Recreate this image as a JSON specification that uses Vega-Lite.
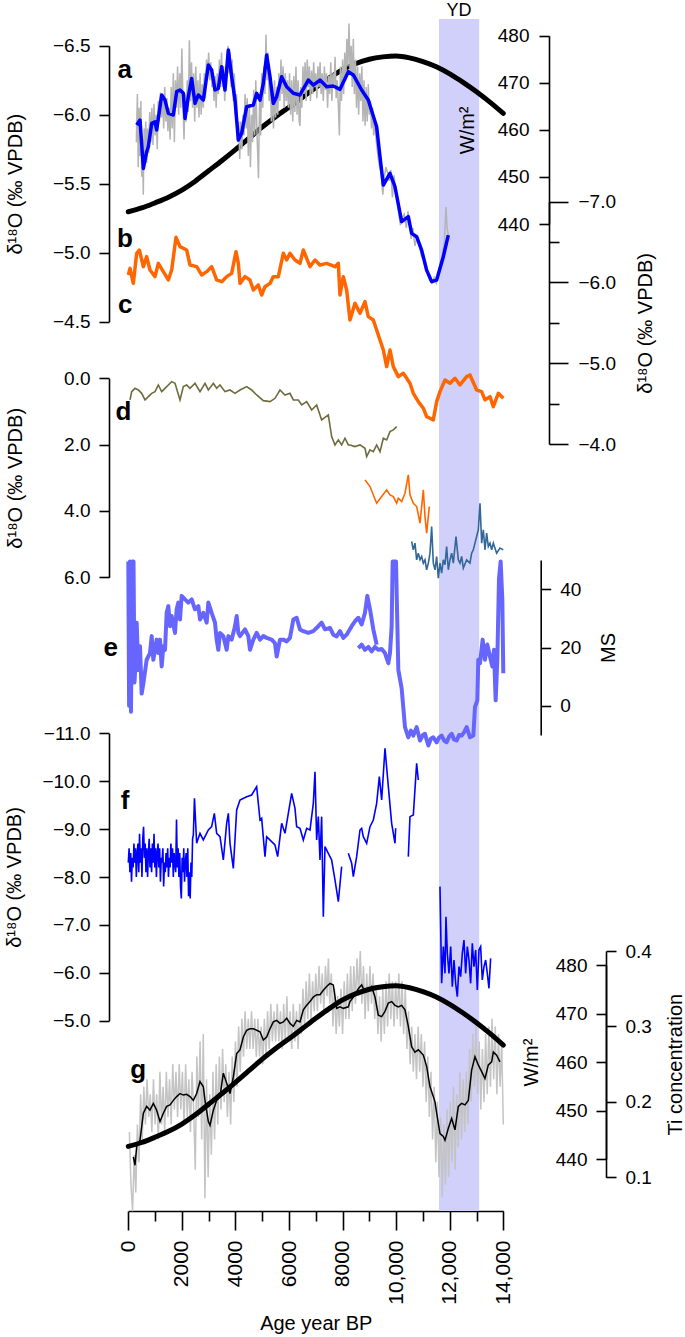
{
 "$schema": "https://vega.github.io/schema/vega-lite/v6.json",
 "width": 685, "height": 1337, "autosize": {"type": "none"}, "padding": 0,
 "background": "white",
 "config": {"view": {"stroke": null}, "font": "Liberation Sans",
   "axis": {"grid": false, "domainColor": "#000", "domainWidth": 1.6, "tickColor": "#000", "tickWidth": 1.6, "labelColor": "#000", "titleColor": "#000", "labelFontSize": 19, "titleFontSize": 20, "titleFontWeight": "normal", "labelFont": "Liberation Sans", "titleFont": "Liberation Sans", "labelOverlap": false, "labelBound": false, "labelFlush": false, "tickSize": 10, "labelPadding": 9}},
 "datasets": {
  "band": [{"age": 11600, "age2": 13100, "lo": 0, "hi": 1}],
  "yd": [{"age": 12350, "v": 1.0025, "t": "YD"}],
  "insol": [{"age":0,"v":442.6},{"age":500,"v":443.4},{"age":1000,"v":444.5},{"age":1500,"v":445.7},{"age":2000,"v":447.2},{"age":2500,"v":449.1},{"age":3000,"v":451.3},{"age":3500,"v":453.5},{"age":4000,"v":455.8},{"age":4500,"v":458.2},{"age":5000,"v":460.6},{"age":5500,"v":462.8},{"age":6000,"v":464.8},{"age":6500,"v":466.9},{"age":7000,"v":469.0},{"age":7500,"v":471.0},{"age":8000,"v":472.8},{"age":8500,"v":474.1},{"age":9000,"v":475.0},{"age":9500,"v":475.5},{"age":10000,"v":475.7},{"age":10500,"v":475.3},{"age":11000,"v":474.5},{"age":11500,"v":473.4},{"age":12000,"v":471.9},{"age":12500,"v":470.1},{"age":13000,"v":468.1},{"age":13500,"v":465.9},{"age":14000,"v":463.5}],
  "a_gray": [{"age":300,"v":-5.80},{"age":340,"v":-6.15},{"age":370,"v":-5.62},{"age":400,"v":-6.05},{"age":430,"v":-5.70},{"age":470,"v":-6.10},{"age":500,"v":-5.55},{"age":530,"v":-5.82},{"age":560,"v":-5.42},{"age":590,"v":-5.90},{"age":620,"v":-5.70},{"age":650,"v":-5.95},{"age":690,"v":-5.65},{"age":720,"v":-5.90},{"age":760,"v":-5.72},{"age":800,"v":-6.02},{"age":840,"v":-5.80},{"age":880,"v":-6.05},{"age":920,"v":-5.78},{"age":960,"v":-6.08},{"age":1000,"v":-5.85},{"age":1040,"v":-6.00},{"age":1080,"v":-5.75},{"age":1120,"v":-6.10},{"age":1160,"v":-5.95},{"age":1200,"v":-6.16},{"age":1240,"v":-5.98},{"age":1280,"v":-6.15},{"age":1320,"v":-5.90},{"age":1360,"v":-6.20},{"age":1400,"v":-5.95},{"age":1440,"v":-6.12},{"age":1480,"v":-5.88},{"age":1520,"v":-6.05},{"age":1560,"v":-5.82},{"age":1600,"v":-6.20},{"age":1640,"v":-5.90},{"age":1680,"v":-6.30},{"age":1720,"v":-5.80},{"age":1760,"v":-6.25},{"age":1800,"v":-6.05},{"age":1840,"v":-6.35},{"age":1880,"v":-6.00},{"age":1920,"v":-6.30},{"age":1960,"v":-6.05},{"age":2000,"v":-6.48},{"age":2040,"v":-6.10},{"age":2080,"v":-5.82},{"age":2120,"v":-6.15},{"age":2160,"v":-5.95},{"age":2200,"v":-6.25},{"age":2240,"v":-6.02},{"age":2280,"v":-6.54},{"age":2320,"v":-6.10},{"age":2360,"v":-6.38},{"age":2400,"v":-6.05},{"age":2440,"v":-6.30},{"age":2480,"v":-5.95},{"age":2520,"v":-6.35},{"age":2560,"v":-6.05},{"age":2600,"v":-6.25},{"age":2640,"v":-5.98},{"age":2680,"v":-6.30},{"age":2720,"v":-6.00},{"age":2760,"v":-6.22},{"age":2800,"v":-6.05},{"age":2840,"v":-6.30},{"age":2880,"v":-6.12},{"age":2920,"v":-6.40},{"age":2960,"v":-6.28},{"age":3000,"v":-6.45},{"age":3040,"v":-6.25},{"age":3080,"v":-6.38},{"age":3120,"v":-6.20},{"age":3160,"v":-6.30},{"age":3200,"v":-6.10},{"age":3240,"v":-6.28},{"age":3280,"v":-6.05},{"age":3320,"v":-6.30},{"age":3360,"v":-6.15},{"age":3400,"v":-6.40},{"age":3440,"v":-6.20},{"age":3480,"v":-6.45},{"age":3520,"v":-6.20},{"age":3560,"v":-6.35},{"age":3600,"v":-6.10},{"age":3640,"v":-6.30},{"age":3680,"v":-6.38},{"age":3720,"v":-6.50},{"age":3760,"v":-6.30},{"age":3800,"v":-6.45},{"age":3840,"v":-6.20},{"age":3880,"v":-6.40},{"age":3920,"v":-6.10},{"age":3960,"v":-6.30},{"age":4000,"v":-6.00},{"age":4040,"v":-6.15},{"age":4080,"v":-5.80},{"age":4120,"v":-5.95},{"age":4160,"v":-5.68},{"age":4200,"v":-5.95},{"age":4240,"v":-5.75},{"age":4280,"v":-6.00},{"age":4320,"v":-5.85},{"age":4360,"v":-6.15},{"age":4400,"v":-5.90},{"age":4440,"v":-6.12},{"age":4480,"v":-5.70},{"age":4520,"v":-6.05},{"age":4560,"v":-5.62},{"age":4600,"v":-6.00},{"age":4640,"v":-5.80},{"age":4680,"v":-6.18},{"age":4720,"v":-5.85},{"age":4760,"v":-6.25},{"age":4800,"v":-5.90},{"age":4860,"v":-5.54},{"age":4900,"v":-6.10},{"age":4940,"v":-5.85},{"age":4980,"v":-6.30},{"age":5020,"v":-6.05},{"age":5060,"v":-6.35},{"age":5100,"v":-6.15},{"age":5140,"v":-6.58},{"age":5180,"v":-6.25},{"age":5220,"v":-6.45},{"age":5260,"v":-6.10},{"age":5300,"v":-6.30},{"age":5340,"v":-5.95},{"age":5380,"v":-6.20},{"age":5420,"v":-5.90},{"age":5460,"v":-6.25},{"age":5500,"v":-5.98},{"age":5540,"v":-6.20},{"age":5580,"v":-6.00},{"age":5620,"v":-6.30},{"age":5660,"v":-6.10},{"age":5700,"v":-6.40},{"age":5740,"v":-6.15},{"age":5780,"v":-6.35},{"age":5820,"v":-6.05},{"age":5860,"v":-6.30},{"age":5900,"v":-6.10},{"age":5940,"v":-6.25},{"age":5980,"v":-6.05},{"age":6020,"v":-6.30},{"age":6060,"v":-6.00},{"age":6100,"v":-6.25},{"age":6140,"v":-5.95},{"age":6180,"v":-6.28},{"age":6220,"v":-6.02},{"age":6260,"v":-6.35},{"age":6300,"v":-6.00},{"age":6340,"v":-6.25},{"age":6380,"v":-5.95},{"age":6410,"v":-5.92},{"age":6440,"v":-6.20},{"age":6480,"v":-6.05},{"age":6520,"v":-6.35},{"age":6560,"v":-6.15},{"age":6600,"v":-6.38},{"age":6640,"v":-6.10},{"age":6680,"v":-6.40},{"age":6720,"v":-6.20},{"age":6760,"v":-6.35},{"age":6800,"v":-6.10},{"age":6840,"v":-6.32},{"age":6880,"v":-6.15},{"age":6920,"v":-6.38},{"age":6960,"v":-6.20},{"age":7000,"v":-6.30},{"age":7040,"v":-6.12},{"age":7080,"v":-6.35},{"age":7120,"v":-6.20},{"age":7160,"v":-6.38},{"age":7200,"v":-6.15},{"age":7240,"v":-6.30},{"age":7280,"v":-6.10},{"age":7320,"v":-6.35},{"age":7360,"v":-6.18},{"age":7400,"v":-6.30},{"age":7440,"v":-6.05},{"age":7480,"v":-6.28},{"age":7520,"v":-6.15},{"age":7560,"v":-6.38},{"age":7600,"v":-6.10},{"age":7640,"v":-6.30},{"age":7680,"v":-6.22},{"age":7720,"v":-6.42},{"age":7760,"v":-6.12},{"age":7800,"v":-6.25},{"age":7840,"v":-6.08},{"age":7880,"v":-5.85},{"age":7920,"v":-6.35},{"age":7960,"v":-6.10},{"age":8000,"v":-6.40},{"age":8040,"v":-6.15},{"age":8080,"v":-6.45},{"age":8120,"v":-6.25},{"age":8160,"v":-6.55},{"age":8200,"v":-6.35},{"age":8240,"v":-6.66},{"age":8280,"v":-6.30},{"age":8320,"v":-6.50},{"age":8360,"v":-6.20},{"age":8400,"v":-6.55},{"age":8440,"v":-6.15},{"age":8480,"v":-6.40},{"age":8520,"v":-6.05},{"age":8560,"v":-6.35},{"age":8600,"v":-6.00},{"age":8640,"v":-6.30},{"age":8680,"v":-6.10},{"age":8720,"v":-6.35},{"age":8760,"v":-5.95},{"age":8800,"v":-6.25},{"age":8840,"v":-5.92},{"age":8880,"v":-6.20},{"age":8920,"v":-5.95},{"age":8960,"v":-6.22},{"age":9000,"v":-6.00},{"age":9040,"v":-6.10},{"age":9080,"v":-5.90},{"age":9120,"v":-6.05},{"age":9160,"v":-5.85},{"age":9200,"v":-5.95},{"age":9260,"v":-5.80},{"age":9320,"v":-5.70},{"age":9380,"v":-5.62},{"age":9440,"v":-5.58},{"age":9500,"v":-5.42},{"age":9560,"v":-5.55},{"age":9620,"v":-5.62},{"age":9680,"v":-5.58},{"age":9740,"v":-5.52},{"age":9800,"v":-5.60},{"age":9860,"v":-5.40},{"age":9920,"v":-5.56},{"age":9980,"v":-5.45},{"age":10040,"v":-5.38},{"age":10100,"v":-5.28},{"age":10160,"v":-5.20},{"age":10220,"v":-5.25},{"age":10300,"v":-5.28},{"age":10380,"v":-5.18},{"age":10440,"v":-5.30},{"age":10500,"v":-5.22},{"age":10560,"v":-5.10},{"age":10620,"v":-5.18},{"age":10700,"v":-5.05},{"age":10780,"v":-5.12},{"age":10860,"v":-5.06},{"age":10940,"v":-4.98},{"age":11020,"v":-4.95},{"age":11100,"v":-4.88},{"age":11180,"v":-4.84},{"age":11260,"v":-4.80},{"age":11340,"v":-4.78},{"age":11420,"v":-4.82},{"age":11500,"v":-4.78},{"age":11580,"v":-4.86},{"age":11660,"v":-4.92},{"age":11740,"v":-5.00},{"age":11800,"v":-5.08},{"age":11860,"v":-5.33},{"age":11900,"v":-5.18},{"age":11960,"v":-5.12}],
  "a_blue": [{"age":313,"v":-5.925},{"age":437,"v":-5.961},{"age":562,"v":-5.611},{"age":686,"v":-5.732},{"age":748,"v":-5.768},{"age":873,"v":-5.937},{"age":997,"v":-5.949},{"age":1059,"v":-5.889},{"age":1246,"v":-6.143},{"age":1370,"v":-6.106},{"age":1495,"v":-6.010},{"age":1681,"v":-5.998},{"age":1806,"v":-6.167},{"age":1930,"v":-6.179},{"age":2055,"v":-6.155},{"age":2117,"v":-5.973},{"age":2241,"v":-6.131},{"age":2366,"v":-6.263},{"age":2490,"v":-6.082},{"age":2615,"v":-6.143},{"age":2801,"v":-6.106},{"age":2988,"v":-6.360},{"age":3112,"v":-6.324},{"age":3237,"v":-6.179},{"age":3361,"v":-6.191},{"age":3486,"v":-6.348},{"age":3610,"v":-6.179},{"age":3735,"v":-6.469},{"age":3859,"v":-6.275},{"age":3983,"v":-6.106},{"age":4108,"v":-5.817},{"age":4232,"v":-5.865},{"age":4419,"v":-6.058},{"age":4668,"v":-6.070},{"age":4792,"v":-6.155},{"age":4917,"v":-6.106},{"age":5041,"v":-6.227},{"age":5165,"v":-6.432},{"age":5290,"v":-6.275},{"age":5414,"v":-6.082},{"age":5539,"v":-6.131},{"age":5725,"v":-6.275},{"age":5912,"v":-6.203},{"age":6161,"v":-6.155},{"age":6410,"v":-6.143},{"age":6721,"v":-6.251},{"age":6907,"v":-6.215},{"age":7156,"v":-6.251},{"age":7405,"v":-6.203},{"age":7654,"v":-6.208},{"age":7903,"v":-6.184},{"age":8214,"v":-6.312},{"age":8400,"v":-6.288},{"age":8712,"v":-6.179},{"age":8960,"v":-6.106},{"age":9271,"v":-5.913},{"age":9396,"v":-5.696},{"age":9521,"v":-5.490},{"age":9769,"v":-5.575},{"age":9956,"v":-5.478},{"age":10205,"v":-5.225},{"age":10454,"v":-5.261},{"age":10578,"v":-5.140},{"age":10765,"v":-5.116},{"age":10951,"v":-5.019},{"age":11138,"v":-4.874},{"age":11325,"v":-4.790},{"age":11511,"v":-4.802},{"age":11760,"v":-4.971},{"age":11947,"v":-5.128}],
  "orange": [{"age":0,"v":-6.093},{"age":64,"v":-6.175},{"age":188,"v":-5.989},{"age":313,"v":-6.361},{"age":412,"v":-6.402},{"age":562,"v":-6.196},{"age":686,"v":-6.320},{"age":810,"v":-6.154},{"age":997,"v":-6.072},{"age":1121,"v":-6.237},{"age":1308,"v":-6.134},{"age":1495,"v":-6.031},{"age":1619,"v":-6.154},{"age":1781,"v":-6.559},{"age":1930,"v":-6.443},{"age":2179,"v":-6.402},{"age":2304,"v":-6.216},{"age":2552,"v":-6.196},{"age":2739,"v":-6.093},{"age":2926,"v":-6.134},{"age":3112,"v":-6.196},{"age":3299,"v":-6.031},{"age":3486,"v":-6.010},{"age":3672,"v":-6.072},{"age":3859,"v":-6.113},{"age":4021,"v":-6.381},{"age":4108,"v":-6.237},{"age":4170,"v":-5.989},{"age":4357,"v":-6.072},{"age":4543,"v":-6.031},{"age":4668,"v":-5.907},{"age":4854,"v":-5.969},{"age":4979,"v":-5.845},{"age":5103,"v":-5.948},{"age":5290,"v":-5.989},{"age":5414,"v":-6.072},{"age":5601,"v":-6.072},{"age":5788,"v":-6.361},{"age":5912,"v":-6.278},{"age":6036,"v":-6.361},{"age":6223,"v":-6.278},{"age":6410,"v":-6.237},{"age":6534,"v":-6.402},{"age":6783,"v":-6.196},{"age":6970,"v":-6.278},{"age":7156,"v":-6.216},{"age":7405,"v":-6.237},{"age":7716,"v":-6.196},{"age":7841,"v":-6.237},{"age":7903,"v":-5.845},{"age":8027,"v":-6.072},{"age":8152,"v":-5.907},{"age":8276,"v":-5.536},{"age":8463,"v":-5.742},{"age":8649,"v":-5.618},{"age":8836,"v":-5.763},{"age":8960,"v":-5.577},{"age":9147,"v":-5.536},{"age":9272,"v":-5.412},{"age":9396,"v":-5.288},{"age":9521,"v":-5.164},{"age":9645,"v":-4.958},{"age":9770,"v":-5.164},{"age":9894,"v":-4.958},{"age":10081,"v":-4.834},{"age":10267,"v":-4.876},{"age":10516,"v":-4.752},{"age":10641,"v":-4.628},{"age":10827,"v":-4.525},{"age":11014,"v":-4.443},{"age":11138,"v":-4.339},{"age":11263,"v":-4.319},{"age":11387,"v":-4.298},{"age":11512,"v":-4.525},{"age":11636,"v":-4.649},{"age":11823,"v":-4.793},{"age":12010,"v":-4.752},{"age":12196,"v":-4.814},{"age":12383,"v":-4.731},{"age":12631,"v":-4.834},{"age":12756,"v":-4.855},{"age":13005,"v":-4.669},{"age":13191,"v":-4.649},{"age":13316,"v":-4.546},{"age":13503,"v":-4.587},{"age":13627,"v":-4.463},{"age":13814,"v":-4.628},{"age":14000,"v":-4.566}],
  "d_olive": [{"age":64,"v":0.653},{"age":126,"v":0.402},{"age":250,"v":0.302},{"age":375,"v":0.352},{"age":499,"v":0.453},{"age":624,"v":0.653},{"age":748,"v":0.553},{"age":873,"v":0.453},{"age":997,"v":0.402},{"age":1121,"v":0.202},{"age":1246,"v":0.402},{"age":1370,"v":0.302},{"age":1495,"v":0.202},{"age":1619,"v":0.101},{"age":1744,"v":0.151},{"age":1930,"v":0.653},{"age":2055,"v":0.252},{"age":2179,"v":0.202},{"age":2304,"v":0.302},{"age":2490,"v":0.151},{"age":2677,"v":0.402},{"age":2863,"v":0.151},{"age":2988,"v":0.352},{"age":3175,"v":0.151},{"age":3299,"v":0.302},{"age":3423,"v":0.202},{"age":3610,"v":0.402},{"age":3797,"v":0.352},{"age":3983,"v":0.453},{"age":4170,"v":0.352},{"age":4419,"v":0.252},{"age":4605,"v":0.352},{"age":4792,"v":0.503},{"age":5041,"v":0.673},{"age":5290,"v":0.704},{"age":5476,"v":0.603},{"age":5663,"v":0.352},{"age":5850,"v":0.503},{"age":6036,"v":0.453},{"age":6161,"v":0.653},{"age":6348,"v":0.653},{"age":6472,"v":0.804},{"age":6659,"v":0.704},{"age":6845,"v":0.955},{"age":7032,"v":0.804},{"age":7218,"v":1.256},{"age":7467,"v":1.105},{"age":7592,"v":1.758},{"age":7716,"v":2.009},{"age":7841,"v":1.858},{"age":7965,"v":2.009},{"age":8090,"v":1.808},{"age":8214,"v":2.009},{"age":8277,"v":2.009},{"age":8463,"v":2.059},{"age":8650,"v":2.009},{"age":8837,"v":2.109},{"age":8899,"v":2.360},{"age":9023,"v":2.159},{"age":9148,"v":2.210},{"age":9272,"v":2.009},{"age":9397,"v":2.210},{"age":9521,"v":1.808},{"age":9645,"v":1.858},{"age":9770,"v":1.607},{"age":9894,"v":1.557},{"age":10019,"v":1.457}],
  "d_orange": [{"age":8837,"v":3.063},{"age":9023,"v":3.264},{"age":9272,"v":3.766},{"age":9459,"v":3.565},{"age":9645,"v":3.364},{"age":9770,"v":3.515},{"age":9894,"v":3.565},{"age":10019,"v":3.766},{"age":10081,"v":3.615},{"age":10205,"v":3.716},{"age":10330,"v":3.465},{"age":10454,"v":2.912},{"age":10516,"v":3.515},{"age":10641,"v":3.766},{"age":10765,"v":3.866},{"age":10890,"v":4.368},{"age":11014,"v":3.364},{"age":11076,"v":4.167},{"age":11138,"v":4.669},{"age":11238,"v":3.866}],
  "d_steel": [{"age":10579,"v":4.920},{"age":10641,"v":5.172},{"age":10703,"v":4.970},{"age":10765,"v":5.473},{"age":10827,"v":5.272},{"age":10890,"v":5.473},{"age":10952,"v":5.372},{"age":11014,"v":5.573},{"age":11076,"v":5.473},{"age":11138,"v":5.774},{"age":11201,"v":5.573},{"age":11263,"v":5.272},{"age":11325,"v":4.469},{"age":11387,"v":5.573},{"age":11450,"v":5.774},{"age":11512,"v":5.372},{"age":11574,"v":6.025},{"age":11636,"v":5.573},{"age":11698,"v":5.874},{"age":11761,"v":5.473},{"age":11823,"v":5.623},{"age":11885,"v":5.071},{"age":11947,"v":5.774},{"age":12010,"v":5.473},{"age":12072,"v":5.272},{"age":12134,"v":5.573},{"age":12234,"v":4.770},{"age":12321,"v":5.473},{"age":12383,"v":5.573},{"age":12445,"v":5.372},{"age":12507,"v":5.724},{"age":12632,"v":5.473},{"age":12756,"v":5.573},{"age":12818,"v":5.272},{"age":12881,"v":5.171},{"age":12943,"v":4.970},{"age":13005,"v":4.770},{"age":13067,"v":4.569},{"age":13130,"v":3.766},{"age":13192,"v":4.970},{"age":13254,"v":4.569},{"age":13316,"v":5.171},{"age":13378,"v":4.669},{"age":13441,"v":5.071},{"age":13503,"v":4.970},{"age":13565,"v":5.171},{"age":13627,"v":4.970},{"age":13752,"v":5.272},{"age":13876,"v":5.121},{"age":14000,"v":5.172}],
  "e1": [{"age":0,"v":49.5},{"age":30,"v":0},{"age":60,"v":49.5},{"age":100,"v":-2},{"age":150,"v":49.5},{"age":195,"v":49.5},{"age":230,"v":8},{"age":270,"v":14},{"age":313,"v":28.5},{"age":375,"v":12.3},{"age":437,"v":20.4},{"age":499,"v":4.2},{"age":562,"v":7.7},{"age":686,"v":15.8},{"age":810,"v":18.1},{"age":873,"v":23.9},{"age":935,"v":15.8},{"age":997,"v":19.2},{"age":1059,"v":22.7},{"age":1121,"v":18.1},{"age":1184,"v":22.7},{"age":1246,"v":13.5},{"age":1308,"v":20.4},{"age":1370,"v":19.2},{"age":1433,"v":31.9},{"age":1495,"v":34.2},{"age":1557,"v":27.3},{"age":1619,"v":30.8},{"age":1744,"v":25.0},{"age":1806,"v":33.1},{"age":1868,"v":35.4},{"age":1930,"v":29.6},{"age":1992,"v":37.7},{"age":2117,"v":36.5},{"age":2241,"v":35.4},{"age":2366,"v":36.5},{"age":2490,"v":33.1},{"age":2615,"v":34.2},{"age":2677,"v":29.6},{"age":2801,"v":31.9},{"age":2926,"v":28.5},{"age":2988,"v":35.4},{"age":3112,"v":31.9},{"age":3237,"v":28.5},{"age":3299,"v":22.7},{"age":3361,"v":19.2},{"age":3423,"v":25.0},{"age":3548,"v":23.9},{"age":3672,"v":19.2},{"age":3735,"v":23.9},{"age":3859,"v":22.7},{"age":3983,"v":27.3},{"age":4046,"v":30.8},{"age":4108,"v":25.0},{"age":4170,"v":23.9},{"age":4357,"v":26.2},{"age":4481,"v":23.9},{"age":4543,"v":19.2},{"age":4668,"v":22.7},{"age":4792,"v":25.0},{"age":4917,"v":22.7},{"age":5041,"v":23.9},{"age":5165,"v":23.3},{"age":5352,"v":22.7},{"age":5476,"v":21.5},{"age":5539,"v":16.9},{"age":5663,"v":22.7},{"age":5788,"v":22.7},{"age":5912,"v":22.1},{"age":6036,"v":23.3},{"age":6161,"v":29.6},{"age":6285,"v":30.2},{"age":6410,"v":26.2},{"age":6534,"v":25.6},{"age":6721,"v":25.0},{"age":6907,"v":25.6},{"age":7094,"v":27.3},{"age":7218,"v":28.5},{"age":7343,"v":26.2},{"age":7530,"v":26.7},{"age":7654,"v":24.4},{"age":7779,"v":23.8},{"age":7903,"v":25.6},{"age":8028,"v":23.3},{"age":8152,"v":24.4},{"age":8339,"v":27.3},{"age":8463,"v":29.0},{"age":8588,"v":30.2},{"age":8712,"v":27.9},{"age":8836,"v":31.9},{"age":8924,"v":37.7},{"age":9023,"v":33.1},{"age":9148,"v":26.2},{"age":9272,"v":21.0}],
  "e2": [{"age":8588,"v":19.8},{"age":8712,"v":21.0},{"age":8836,"v":19.2},{"age":8961,"v":20.2},{"age":9085,"v":18.7},{"age":9210,"v":20.2},{"age":9334,"v":19.2},{"age":9459,"v":19.5},{"age":9583,"v":18.1},{"age":9708,"v":14.6},{"age":9770,"v":18.1},{"age":9832,"v":27.3},{"age":9869,"v":49.5},{"age":9994,"v":49.5},{"age":10081,"v":12.3},{"age":10205,"v":6.0},{"age":10330,"v":-7.3},{"age":10454,"v":-10.8},{"age":10550,"v":-8.5},{"age":10641,"v":-10.2},{"age":10765,"v":-7.3},{"age":10890,"v":-11.9},{"age":11000,"v":-10.0},{"age":11076,"v":-9.6},{"age":11201,"v":-13.6},{"age":11300,"v":-11.2},{"age":11387,"v":-10.8},{"age":11512,"v":-12.5},{"age":11600,"v":-10.9},{"age":11698,"v":-10.2},{"age":11800,"v":-12.0},{"age":11885,"v":-12.5},{"age":11980,"v":-10.5},{"age":12072,"v":-9.6},{"age":12160,"v":-11.5},{"age":12259,"v":-11.9},{"age":12350,"v":-10.0},{"age":12445,"v":-10.2},{"age":12540,"v":-9.0},{"age":12632,"v":-7.3},{"age":12756,"v":-10.8},{"age":12881,"v":-10.2},{"age":12943,"v":-0.4},{"age":13030,"v":1.9},{"age":13067,"v":15.8},{"age":13130,"v":14.6},{"age":13229,"v":22.7},{"age":13316,"v":15.8},{"age":13403,"v":21.0},{"age":13503,"v":16.9},{"age":13590,"v":13.5},{"age":13652,"v":19.2},{"age":13714,"v":1.9},{"age":13777,"v":15.8},{"age":13839,"v":43.5},{"age":13901,"v":49.5},{"age":13963,"v":36.5},{"age":14000,"v":11.2}],
  "f": [{"s":1,"age":0,"v":-8.3},{"s":1,"age":30,"v":-8.6},{"s":1,"age":60,"v":-8.1},{"s":1,"age":90,"v":-8.5},{"s":1,"age":120,"v":-7.9},{"s":1,"age":150,"v":-8.4},{"s":1,"age":180,"v":-8.2},{"s":1,"age":210,"v":-8.7},{"s":1,"age":240,"v":-8.3},{"s":1,"age":270,"v":-8.6},{"s":1,"age":300,"v":-8.0},{"s":1,"age":330,"v":-8.5},{"s":1,"age":360,"v":-8.7},{"s":1,"age":390,"v":-8.1},{"s":1,"age":420,"v":-8.9},{"s":1,"age":450,"v":-8.3},{"s":1,"age":480,"v":-8.6},{"s":1,"age":510,"v":-8.0},{"s":1,"age":540,"v":-8.8},{"s":1,"age":570,"v":-9.05},{"s":1,"age":600,"v":-8.4},{"s":1,"age":630,"v":-8.7},{"s":1,"age":660,"v":-8.1},{"s":1,"age":690,"v":-8.6},{"s":1,"age":720,"v":-8.0},{"s":1,"age":750,"v":-8.5},{"s":1,"age":780,"v":-8.8},{"s":1,"age":810,"v":-8.2},{"s":1,"age":840,"v":-8.6},{"s":1,"age":870,"v":-8.1},{"s":1,"age":900,"v":-8.7},{"s":1,"age":930,"v":-8.3},{"s":1,"age":960,"v":-8.9},{"s":1,"age":990,"v":-8.2},{"s":1,"age":1020,"v":-8.6},{"s":1,"age":1050,"v":-8.0},{"s":1,"age":1080,"v":-8.5},{"s":1,"age":1110,"v":-8.7},{"s":1,"age":1140,"v":-8.2},{"s":1,"age":1170,"v":-8.6},{"s":1,"age":1200,"v":-7.9},{"s":1,"age":1230,"v":-8.4},{"s":1,"age":1260,"v":-8.3},{"s":1,"age":1290,"v":-8.6},{"s":1,"age":1320,"v":-7.8},{"s":1,"age":1350,"v":-8.3},{"s":1,"age":1380,"v":-8.1},{"s":1,"age":1410,"v":-8.5},{"s":1,"age":1440,"v":-8.2},{"s":1,"age":1470,"v":-8.6},{"s":1,"age":1500,"v":-8.0},{"s":1,"age":1530,"v":-8.4},{"s":1,"age":1560,"v":-8.2},{"s":1,"age":1590,"v":-8.7},{"s":1,"age":1620,"v":-8.3},{"s":1,"age":1650,"v":-8.6},{"s":1,"age":1680,"v":-8.0},{"s":1,"age":1710,"v":-8.5},{"s":1,"age":1740,"v":-8.3},{"s":1,"age":1770,"v":-8.1},{"s":1,"age":1800,"v":-9.2},{"s":1,"age":1830,"v":-8.2},{"s":1,"age":1860,"v":-8.6},{"s":1,"age":1890,"v":-8.0},{"s":1,"age":1920,"v":-8.5},{"s":1,"age":1950,"v":-7.8},{"s":1,"age":1980,"v":-7.55},{"s":1,"age":2010,"v":-8.4},{"s":1,"age":2040,"v":-8.1},{"s":1,"age":2070,"v":-8.6},{"s":1,"age":2100,"v":-7.9},{"s":1,"age":2130,"v":-8.3},{"s":1,"age":2160,"v":-8.5},{"s":1,"age":2190,"v":-8.0},{"s":1,"age":2220,"v":-8.6},{"s":1,"age":2250,"v":-7.6},{"s":1,"age":2280,"v":-8.1},{"s":1,"age":2310,"v":-7.55},{"s":1,"age":2340,"v":-8.3},{"s":1,"age":2370,"v":-8.0},{"s":1,"age":2400,"v":-8.8},{"s":1,"age":2428,"v":-8.877},{"s":1,"age":2470,"v":-9.643},{"s":1,"age":2552,"v":-8.703},{"s":1,"age":2677,"v":-8.912},{"s":1,"age":2801,"v":-8.773},{"s":1,"age":2988,"v":-8.981},{"s":1,"age":3112,"v":-9.051},{"s":1,"age":3212,"v":-9.330},{"s":1,"age":3299,"v":-8.912},{"s":1,"age":3423,"v":-8.842},{"s":1,"age":3548,"v":-8.355},{"s":1,"age":3672,"v":-9.121},{"s":1,"age":3735,"v":-9.330},{"s":1,"age":3797,"v":-8.703},{"s":1,"age":3921,"v":-8.181},{"s":1,"age":4046,"v":-9.399},{"s":1,"age":4170,"v":-9.608},{"s":1,"age":4419,"v":-9.677},{"s":1,"age":4605,"v":-9.712},{"s":1,"age":4792,"v":-9.886},{"s":1,"age":4917,"v":-9.190},{"s":1,"age":4979,"v":-9.225},{"s":1,"age":5103,"v":-8.425},{"s":1,"age":5165,"v":-8.842},{"s":1,"age":5352,"v":-8.738},{"s":1,"age":5476,"v":-8.668},{"s":1,"age":5576,"v":-8.425},{"s":1,"age":5725,"v":-9.121},{"s":1,"age":5850,"v":-8.912},{"s":1,"age":5974,"v":-9.330},{"s":1,"age":6099,"v":-9.747},{"s":1,"age":6223,"v":-9.434},{"s":1,"age":6285,"v":-9.051},{"s":1,"age":6410,"v":-9.016},{"s":1,"age":6534,"v":-8.773},{"s":1,"age":6659,"v":-9.016},{"s":1,"age":6783,"v":-8.981},{"s":1,"age":6907,"v":-9.538},{"s":1,"age":6970,"v":-10.199},{"s":1,"age":7032,"v":-8.773},{"s":1,"age":7094,"v":-9.260},{"s":1,"age":7156,"v":-8.355},{"s":1,"age":7218,"v":-9.260},{"s":1,"age":7281,"v":-7.172},{"s":1,"age":7343,"v":-8.634},{"s":1,"age":7467,"v":-8.494},{"s":1,"age":7592,"v":-8.355},{"s":1,"age":7716,"v":-7.938},{"s":1,"age":7841,"v":-7.485},{"s":1,"age":7965,"v":-8.216},{"s":2,"age":8214,"v":-8.494},{"s":2,"age":8339,"v":-8.286},{"s":2,"age":8401,"v":-8.007},{"s":2,"age":8525,"v":-8.425},{"s":2,"age":8650,"v":-8.981},{"s":2,"age":8712,"v":-9.016},{"s":2,"age":8774,"v":-8.842},{"s":2,"age":8899,"v":-8.703},{"s":2,"age":9023,"v":-9.051},{"s":2,"age":9148,"v":-9.190},{"s":2,"age":9272,"v":-9.538},{"s":2,"age":9372,"v":-10.095},{"s":2,"age":9459,"v":-9.608},{"s":2,"age":9583,"v":-10.687},{"s":2,"age":9708,"v":-9.886},{"s":2,"age":9832,"v":-9.121},{"s":2,"age":9956,"v":-8.703},{"s":2,"age":9981,"v":-9.016},{"s":3,"age":10454,"v":-8.425},{"s":3,"age":10516,"v":-9.260},{"s":3,"age":10641,"v":-9.295},{"s":3,"age":10765,"v":-10.373},{"s":3,"age":10827,"v":-10.025},{"s":4,"age":11636,"v":-7.799},{"s":4,"age":11698,"v":-5.780},{"s":4,"age":11761,"v":-6.546},{"s":4,"age":11823,"v":-5.989},{"s":4,"age":11860,"v":-7.172},{"s":4,"age":11910,"v":-6.407},{"s":4,"age":11972,"v":-5.989},{"s":4,"age":12035,"v":-6.546},{"s":4,"age":12097,"v":-5.711},{"s":4,"age":12159,"v":-6.267},{"s":4,"age":12221,"v":-5.780},{"s":4,"age":12283,"v":-5.502},{"s":4,"age":12346,"v":-6.128},{"s":4,"age":12408,"v":-5.920},{"s":4,"age":12470,"v":-6.407},{"s":4,"age":12532,"v":-6.685},{"s":4,"age":12594,"v":-5.989},{"s":4,"age":12657,"v":-6.546},{"s":4,"age":12719,"v":-6.267},{"s":4,"age":12781,"v":-5.780},{"s":4,"age":12843,"v":-6.616},{"s":4,"age":12905,"v":-6.128},{"s":4,"age":12968,"v":-6.476},{"s":4,"age":13030,"v":-5.641},{"s":4,"age":13092,"v":-6.476},{"s":4,"age":13154,"v":-6.546},{"s":4,"age":13216,"v":-5.850},{"s":4,"age":13279,"v":-6.128},{"s":4,"age":13341,"v":-6.267},{"s":4,"age":13403,"v":-5.989},{"s":4,"age":13465,"v":-5.676},{"s":4,"age":13527,"v":-6.302}],
  "g_gray": [{"age":40,"v":0.16},{"age":100,"v":0.09},{"age":160,"v":0.055},{"age":220,"v":0.13},{"age":280,"v":0.08},{"age":340,"v":0.17},{"age":400,"v":0.12},{"age":460,"v":0.21},{"age":520,"v":0.15},{"age":580,"v":0.22},{"age":640,"v":0.17},{"age":700,"v":0.23},{"age":760,"v":0.18},{"age":820,"v":0.21},{"age":880,"v":0.16},{"age":940,"v":0.23},{"age":1000,"v":0.17},{"age":1060,"v":0.21},{"age":1120,"v":0.15},{"age":1180,"v":0.24},{"age":1240,"v":0.17},{"age":1300,"v":0.22},{"age":1360,"v":0.16},{"age":1420,"v":0.24},{"age":1480,"v":0.18},{"age":1540,"v":0.23},{"age":1600,"v":0.17},{"age":1660,"v":0.25},{"age":1720,"v":0.19},{"age":1780,"v":0.24},{"age":1840,"v":0.18},{"age":1900,"v":0.25},{"age":1960,"v":0.19},{"age":2020,"v":0.24},{"age":2080,"v":0.17},{"age":2140,"v":0.25},{"age":2200,"v":0.18},{"age":2260,"v":0.23},{"age":2320,"v":0.16},{"age":2380,"v":0.24},{"age":2440,"v":0.19},{"age":2500,"v":0.11},{"age":2560,"v":0.26},{"age":2620,"v":0.18},{"age":2680,"v":0.28},{"age":2740,"v":0.15},{"age":2800,"v":0.29},{"age":2860,"v":0.072},{"age":2920,"v":0.23},{"age":2980,"v":0.10},{"age":3040,"v":0.21},{"age":3100,"v":0.13},{"age":3160,"v":0.24},{"age":3220,"v":0.15},{"age":3280,"v":0.25},{"age":3340,"v":0.17},{"age":3400,"v":0.26},{"age":3460,"v":0.19},{"age":3520,"v":0.27},{"age":3580,"v":0.20},{"age":3640,"v":0.25},{"age":3700,"v":0.18},{"age":3760,"v":0.24},{"age":3820,"v":0.17},{"age":3880,"v":0.26},{"age":3940,"v":0.20},{"age":4000,"v":0.28},{"age":4060,"v":0.22},{"age":4120,"v":0.30},{"age":4180,"v":0.24},{"age":4240,"v":0.31},{"age":4300,"v":0.26},{"age":4360,"v":0.32},{"age":4420,"v":0.27},{"age":4480,"v":0.31},{"age":4540,"v":0.27},{"age":4600,"v":0.32},{"age":4660,"v":0.27},{"age":4720,"v":0.31},{"age":4780,"v":0.26},{"age":4840,"v":0.31},{"age":4900,"v":0.26},{"age":4960,"v":0.30},{"age":5020,"v":0.25},{"age":5080,"v":0.31},{"age":5140,"v":0.26},{"age":5200,"v":0.32},{"age":5260,"v":0.27},{"age":5320,"v":0.33},{"age":5380,"v":0.28},{"age":5440,"v":0.32},{"age":5500,"v":0.28},{"age":5560,"v":0.33},{"age":5620,"v":0.28},{"age":5680,"v":0.32},{"age":5740,"v":0.27},{"age":5800,"v":0.33},{"age":5860,"v":0.28},{"age":5920,"v":0.34},{"age":5980,"v":0.28},{"age":6040,"v":0.32},{"age":6100,"v":0.27},{"age":6160,"v":0.33},{"age":6220,"v":0.28},{"age":6280,"v":0.32},{"age":6340,"v":0.27},{"age":6400,"v":0.33},{"age":6460,"v":0.29},{"age":6520,"v":0.35},{"age":6580,"v":0.30},{"age":6640,"v":0.36},{"age":6700,"v":0.31},{"age":6760,"v":0.37},{"age":6820,"v":0.31},{"age":6880,"v":0.36},{"age":6940,"v":0.32},{"age":7000,"v":0.37},{"age":7060,"v":0.32},{"age":7120,"v":0.38},{"age":7180,"v":0.33},{"age":7240,"v":0.37},{"age":7300,"v":0.32},{"age":7360,"v":0.38},{"age":7420,"v":0.34},{"age":7470,"v":0.39},{"age":7520,"v":0.33},{"age":7580,"v":0.37},{"age":7640,"v":0.30},{"age":7700,"v":0.35},{"age":7760,"v":0.29},{"age":7820,"v":0.34},{"age":7880,"v":0.30},{"age":7940,"v":0.35},{"age":8000,"v":0.29},{"age":8060,"v":0.36},{"age":8120,"v":0.31},{"age":8180,"v":0.37},{"age":8240,"v":0.31},{"age":8300,"v":0.38},{"age":8360,"v":0.32},{"age":8420,"v":0.38},{"age":8480,"v":0.33},{"age":8540,"v":0.39},{"age":8600,"v":0.34},{"age":8660,"v":0.40},{"age":8720,"v":0.33},{"age":8780,"v":0.38},{"age":8840,"v":0.31},{"age":8900,"v":0.37},{"age":8960,"v":0.32},{"age":9020,"v":0.38},{"age":9080,"v":0.33},{"age":9140,"v":0.37},{"age":9200,"v":0.31},{"age":9260,"v":0.35},{"age":9320,"v":0.29},{"age":9380,"v":0.34},{"age":9440,"v":0.28},{"age":9500,"v":0.35},{"age":9560,"v":0.29},{"age":9620,"v":0.36},{"age":9680,"v":0.30},{"age":9740,"v":0.37},{"age":9800,"v":0.31},{"age":9860,"v":0.36},{"age":9920,"v":0.30},{"age":9980,"v":0.36},{"age":10040,"v":0.31},{"age":10100,"v":0.37},{"age":10160,"v":0.30},{"age":10220,"v":0.36},{"age":10280,"v":0.29},{"age":10340,"v":0.35},{"age":10400,"v":0.27},{"age":10460,"v":0.32},{"age":10520,"v":0.25},{"age":10580,"v":0.30},{"age":10640,"v":0.24},{"age":10700,"v":0.29},{"age":10760,"v":0.23},{"age":10820,"v":0.30},{"age":10880,"v":0.24},{"age":10940,"v":0.29},{"age":11000,"v":0.22},{"age":11060,"v":0.28},{"age":11120,"v":0.20},{"age":11180,"v":0.26},{"age":11240,"v":0.18},{"age":11300,"v":0.24},{"age":11360,"v":0.15},{"age":11420,"v":0.22},{"age":11480,"v":0.12},{"age":11540,"v":0.20},{"age":11600,"v":0.10},{"age":11660,"v":0.18},{"age":11720,"v":0.074},{"age":11780,"v":0.17},{"age":11840,"v":0.09},{"age":11900,"v":0.19},{"age":11960,"v":0.10},{"age":12020,"v":0.20},{"age":12080,"v":0.12},{"age":12140,"v":0.22},{"age":12200,"v":0.11},{"age":12260,"v":0.21},{"age":12320,"v":0.14},{"age":12380,"v":0.24},{"age":12440,"v":0.15},{"age":12500,"v":0.23},{"age":12560,"v":0.16},{"age":12620,"v":0.24},{"age":12680,"v":0.17},{"age":12740,"v":0.27},{"age":12800,"v":0.20},{"age":12860,"v":0.29},{"age":12920,"v":0.22},{"age":12980,"v":0.30},{"age":13040,"v":0.21},{"age":13100,"v":0.28},{"age":13160,"v":0.19},{"age":13220,"v":0.27},{"age":13280,"v":0.20},{"age":13340,"v":0.29},{"age":13400,"v":0.21},{"age":13460,"v":0.30},{"age":13520,"v":0.22},{"age":13580,"v":0.31},{"age":13640,"v":0.23},{"age":13700,"v":0.30},{"age":13760,"v":0.21},{"age":13820,"v":0.29},{"age":13880,"v":0.22},{"age":13940,"v":0.28},{"age":14000,"v":0.17}],
  "g_black": [{"age":188,"v":0.127},{"age":250,"v":0.116},{"age":313,"v":0.141},{"age":437,"v":0.149},{"age":562,"v":0.185},{"age":686,"v":0.194},{"age":810,"v":0.189},{"age":935,"v":0.198},{"age":1059,"v":0.189},{"age":1184,"v":0.174},{"age":1308,"v":0.185},{"age":1433,"v":0.194},{"age":1557,"v":0.196},{"age":1681,"v":0.202},{"age":1806,"v":0.207},{"age":1930,"v":0.211},{"age":2055,"v":0.209},{"age":2179,"v":0.210},{"age":2304,"v":0.207},{"age":2428,"v":0.202},{"age":2552,"v":0.211},{"age":2677,"v":0.227},{"age":2801,"v":0.220},{"age":2863,"v":0.202},{"age":2988,"v":0.174},{"age":3050,"v":0.169},{"age":3175,"v":0.189},{"age":3299,"v":0.202},{"age":3423,"v":0.207},{"age":3548,"v":0.238},{"age":3672,"v":0.225},{"age":3797,"v":0.211},{"age":3921,"v":0.233},{"age":4046,"v":0.264},{"age":4170,"v":0.269},{"age":4295,"v":0.286},{"age":4419,"v":0.295},{"age":4543,"v":0.297},{"age":4668,"v":0.297},{"age":4792,"v":0.295},{"age":4917,"v":0.293},{"age":5041,"v":0.282},{"age":5165,"v":0.286},{"age":5290,"v":0.297},{"age":5414,"v":0.306},{"age":5539,"v":0.308},{"age":5663,"v":0.304},{"age":5788,"v":0.306},{"age":5912,"v":0.311},{"age":6036,"v":0.304},{"age":6161,"v":0.300},{"age":6285,"v":0.308},{"age":6410,"v":0.306},{"age":6534,"v":0.322},{"age":6659,"v":0.328},{"age":6783,"v":0.333},{"age":6907,"v":0.339},{"age":7032,"v":0.342},{"age":7156,"v":0.342},{"age":7281,"v":0.348},{"age":7405,"v":0.353},{"age":7530,"v":0.357},{"age":7654,"v":0.355},{"age":7779,"v":0.324},{"age":7903,"v":0.326},{"age":8027,"v":0.324},{"age":8214,"v":0.326},{"age":8277,"v":0.333},{"age":8463,"v":0.342},{"age":8588,"v":0.350},{"age":8712,"v":0.355},{"age":8837,"v":0.346},{"age":8961,"v":0.348},{"age":9086,"v":0.353},{"age":9210,"v":0.339},{"age":9334,"v":0.315},{"age":9459,"v":0.313},{"age":9583,"v":0.320},{"age":9708,"v":0.331},{"age":9832,"v":0.333},{"age":9956,"v":0.328},{"age":10081,"v":0.326},{"age":10205,"v":0.328},{"age":10330,"v":0.322},{"age":10454,"v":0.300},{"age":10579,"v":0.273},{"age":10703,"v":0.266},{"age":10827,"v":0.269},{"age":11014,"v":0.262},{"age":11138,"v":0.247},{"age":11263,"v":0.220},{"age":11387,"v":0.207},{"age":11450,"v":0.200},{"age":11512,"v":0.185},{"age":11636,"v":0.158},{"age":11761,"v":0.154},{"age":11823,"v":0.149},{"age":11947,"v":0.165},{"age":12072,"v":0.178},{"age":12196,"v":0.163},{"age":12321,"v":0.194},{"age":12445,"v":0.198},{"age":12570,"v":0.196},{"age":12694,"v":0.202},{"age":12818,"v":0.242},{"age":12943,"v":0.260},{"age":13067,"v":0.249},{"age":13192,"v":0.240},{"age":13316,"v":0.231},{"age":13441,"v":0.249},{"age":13565,"v":0.253},{"age":13627,"v":0.266},{"age":13752,"v":0.262},{"age":13876,"v":0.253}],
  "labA": [{"age":-135,"v":-6.264,"t":"a"},{"age":-128,"v":-5.043,"t":"b"},{"age":-110,"v":-4.561,"t":"c"}],
  "labD": [{"age":-185,"v":1.256,"t":"d"}],
  "labE": [{"age":-653,"v":16.92,"t":"e"}],
  "labF": [{"age":-123,"v":-9.413,"t":"f"}],
  "labG": [{"age":373,"v":0.2312,"t":"g"}]
 },
 "encoding": {"x": {"field": "age", "type": "quantitative", "scale": {"domain": [0, 14000], "range": [128.3, 503.3], "nice": false, "zero": false},
   "axis": {"orient": "bottom", "offset": -126, "values": [0,1000,2000,3000,4000,5000,6000,7000,8000,9000,10000,11000,12000,13000,14000],
     "tickSize": {"condition": {"test": "datum.value % 2000 === 0", "value": 19}, "value": 10},
     "labelExpr": "datum.value % 2000 ? '' : (datum.value >= 10000 ? format(datum.value, ',') : format(datum.value, 'd'))",
     "labelAngle": -90, "labelAlign": "right", "labelBaseline": "middle", "labelFontSize": 21, "labelPadding": 10,
     "title": "Age year BP", "titleFontSize": 20, "titlePadding": 9}}},
 "layer": [
  {"data": {"name": "band"}, "mark": {"type": "rect", "color": "#D0D0FA"},
   "encoding": {"x2": {"field": "age2"}, "y": {"field": "hi", "type": "quantitative", "scale": {"domain": [0, 1], "range": [1211, 19], "nice": false, "zero": false}, "axis": null}, "y2": {"field": "lo"}}},
  {"data": {"name": "yd"}, "mark": {"type": "text", "fontSize": 18, "align": "center", "baseline": "alphabetic", "color": "#000"},
   "encoding": {"text": {"field": "t"}, "y": {"field": "v", "type": "quantitative", "scale": {"domain": [0, 1], "range": [1211, 19], "nice": false, "zero": false}, "axis": null}}},
  {"data": {"name": "insol"}, "mark": {"type": "line", "color": "#000", "strokeWidth": 5, "interpolate": "monotone", "strokeCap": "round"},
   "encoding": {"y": {"field": "v", "type": "quantitative", "scale": {"domain": [440, 480], "range": [224, 35.7], "nice": false, "zero": false},
     "axis": {"orient": "left", "offset": -549, "zindex": 2, "values": [440,450,460,470,480], "labelPadding": 10, "title": "W/m²", "titlePadding": 20}}}},
  {"data": {"name": "a_gray"}, "mark": {"type": "line", "color": "#B4B4B4", "strokeWidth": 1.5},
   "encoding": {"y": {"field": "v", "type": "quantitative", "scale": {"domain": [-6.5, -4.5], "range": [45.7, 321.7], "nice": false, "zero": false}, "axis": null}}},
  {"data": {"name": "a_blue"}, "mark": {"type": "line", "color": "#0000FF", "strokeWidth": 3.5, "strokeJoin": "round"},
   "encoding": {"y": {"field": "v", "type": "quantitative", "scale": {"domain": [-6.5, -4.5], "range": [45.7, 321.7], "nice": false, "zero": false},
     "axis": {"orient": "left", "offset": -109, "values": [-6.5,-6,-5.5,-5,-4.5], "format": ".1f", "title": "δ¹⁸O (‰ VPDB)", "titlePadding": 27}}}},
  {"data": {"name": "orange"}, "mark": {"type": "line", "color": "#FF6600", "strokeWidth": 3.5, "strokeJoin": "round"},
   "encoding": {"y": {"field": "v", "type": "quantitative", "scale": {"domain": [-7, -4], "range": [201.7, 444], "nice": false, "zero": false},
     "axis": {"orient": "right", "offset": -136, "values": [-7,-6.5,-6,-5.5,-5,-4.5,-4],
       "tickSize": {"condition": {"test": "datum.value % 1 === 0", "value": 19}, "value": 10},
       "labelExpr": "datum.value % 1 ? '' : format(datum.value, '.1f')", "labelPadding": 10,
       "title": "δ¹⁸O (‰ VPDB)", "titleAngle": 270, "titleBaseline": "top", "titlePadding": 20}}}},
  {"data": {"name": "labA"}, "mark": {"type": "text", "fontSize": 26, "fontWeight": "bold", "align": "center", "baseline": "alphabetic", "color": "#000"},
   "encoding": {"text": {"field": "t"}, "y": {"field": "v", "type": "quantitative", "scale": {"domain": [-6.5, -4.5], "range": [45.7, 321.7], "nice": false, "zero": false}, "axis": null}}},
  {"data": {"name": "d_olive"}, "mark": {"type": "line", "color": "#6E6B3C", "strokeWidth": 1.6},
   "encoding": {"y": {"field": "v", "type": "quantitative", "scale": {"domain": [0, 6], "range": [378.3, 577.3], "nice": false, "zero": false},
     "axis": {"orient": "left", "offset": -109, "values": [0,2,4,6], "format": ".1f", "title": "δ¹⁸O (‰ VPDB)", "titlePadding": 38}}}},
  {"data": {"name": "d_orange"}, "mark": {"type": "line", "color": "#FF6600", "strokeWidth": 1.6},
   "encoding": {"y": {"field": "v", "type": "quantitative", "scale": {"domain": [0, 6], "range": [378.3, 577.3], "nice": false, "zero": false}, "axis": null}}},
  {"data": {"name": "d_steel"}, "mark": {"type": "line", "color": "#336699", "strokeWidth": 1.6},
   "encoding": {"y": {"field": "v", "type": "quantitative", "scale": {"domain": [0, 6], "range": [378.3, 577.3], "nice": false, "zero": false}, "axis": null}}},
  {"data": {"name": "labD"}, "mark": {"type": "text", "fontSize": 26, "fontWeight": "bold", "align": "center", "baseline": "alphabetic", "color": "#000"},
   "encoding": {"text": {"field": "t"}, "y": {"field": "v", "type": "quantitative", "scale": {"domain": [0, 6], "range": [378.3, 577.3], "nice": false, "zero": false}, "axis": null}}},
  {"data": {"name": "e1"}, "mark": {"type": "line", "color": "#6666FF", "strokeWidth": 4, "strokeJoin": "round"},
   "encoding": {"y": {"field": "v", "type": "quantitative", "scale": {"domain": [-10, 50], "range": [735, 560], "nice": false, "zero": false},
     "axis": {"orient": "right", "offset": -144.3, "values": [0,20,40], "title": "MS", "titleAngle": 270, "titleBaseline": "top", "titlePadding": 18}}}},
  {"data": {"name": "e2"}, "mark": {"type": "line", "color": "#6666FF", "strokeWidth": 4, "strokeJoin": "round"},
   "encoding": {"y": {"field": "v", "type": "quantitative", "scale": {"domain": [-10, 50], "range": [735, 560], "nice": false, "zero": false}, "axis": null}}},
  {"data": {"name": "labE"}, "mark": {"type": "text", "fontSize": 26, "fontWeight": "bold", "align": "center", "baseline": "alphabetic", "color": "#000"},
   "encoding": {"text": {"field": "t"}, "y": {"field": "v", "type": "quantitative", "scale": {"domain": [-10, 50], "range": [735, 560], "nice": false, "zero": false}, "axis": null}}},
  {"data": {"name": "f"}, "mark": {"type": "line", "color": "#0000FF", "strokeWidth": 1.6},
   "encoding": {"detail": {"field": "s"}, "y": {"field": "v", "type": "quantitative", "scale": {"domain": [-11, -5], "range": [733.3, 1020.7], "nice": false, "zero": false},
     "axis": {"orient": "left", "offset": -109, "values": [-11,-10,-9,-8,-7,-6,-5], "format": ".1f", "title": "δ¹⁸O (‰ VPDB)", "titlePadding": 17}}}},
  {"data": {"name": "labF"}, "mark": {"type": "text", "fontSize": 26, "fontWeight": "bold", "align": "center", "baseline": "alphabetic", "color": "#000"},
   "encoding": {"text": {"field": "t"}, "y": {"field": "v", "type": "quantitative", "scale": {"domain": [-11, -5], "range": [733.3, 1020.7], "nice": false, "zero": false}, "axis": null}}},
  {"data": {"name": "g_gray"}, "mark": {"type": "line", "color": "#C4C4C4", "strokeWidth": 1.5},
   "encoding": {"y": {"field": "v", "type": "quantitative", "scale": {"domain": [0.1, 0.4], "range": [1177.3, 951], "nice": false, "zero": false},
     "axis": {"orient": "right", "offset": -79, "values": [0.1,0.2,0.3,0.4], "format": ".1f", "title": "Ti concentration", "titleAngle": 270, "titleBaseline": "top", "titlePadding": 14}}}},
  {"data": {"name": "insol"}, "mark": {"type": "line", "color": "#000", "strokeWidth": 5, "interpolate": "monotone", "strokeCap": "round"},
   "encoding": {"y": {"field": "v", "type": "quantitative", "scale": {"domain": [440, 480], "range": [1159, 965], "nice": false, "zero": false},
     "axis": {"orient": "left", "offset": -606, "values": [440,450,460,470,480], "title": "W/m²", "titlePadding": 14}}}},
  {"data": {"name": "g_black"}, "mark": {"type": "line", "color": "#000", "strokeWidth": 1.5},
   "encoding": {"y": {"field": "v", "type": "quantitative", "scale": {"domain": [0.1, 0.4], "range": [1177.3, 951], "nice": false, "zero": false}, "axis": null}}},
  {"data": {"name": "labG"}, "mark": {"type": "text", "fontSize": 26, "fontWeight": "bold", "align": "center", "baseline": "alphabetic", "color": "#000"},
   "encoding": {"text": {"field": "t"}, "y": {"field": "v", "type": "quantitative", "scale": {"domain": [0.1, 0.4], "range": [1177.3, 951], "nice": false, "zero": false}, "axis": null}}}
 ],
 "resolve": {"scale": {"y": "independent"}, "axis": {"y": "independent"}}
}
